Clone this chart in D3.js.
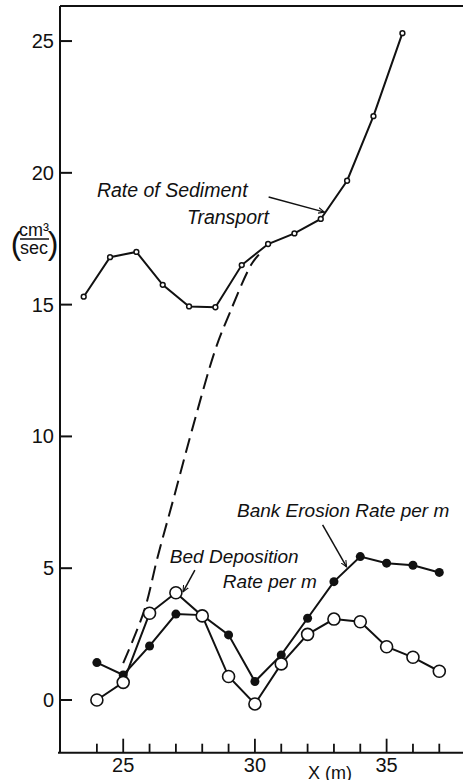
<!DOCTYPE html>
<html>
<head>
<meta charset="utf-8">
<script src="https://cdn.jsdelivr.net/npm/d3@7"></script>
<style>
  body { margin: 0; background: #fff; }
  svg { display: block; }
  text { font-family: "Liberation Sans", Arial, sans-serif; fill: #111; }
  .note { font-style: italic; }
</style>
</head>
<body>
<svg id="chart"></svg>
<script>
// values
var sedX = [23.5, 24.5, 25.5, 26.5, 27.5, 28.5, 29.5, 30.5, 31.5, 32.5, 33.5, 34.5, 35.6];
var sedY = [15.3, 16.8, 17.0, 15.75, 14.93, 14.9, 16.5, 17.3, 17.7, 18.25, 19.7, 22.15, 25.3];

var dashX = [25, 25.8, 26.3, 26.9, 27.6, 28.5, 29.05, 29.85, 30.15];
var dashY = [1.4, 3.4, 5.4, 7.6, 10.2, 13.3, 14.7, 16.5, 16.9];

var posX  = [24, 25, 26, 27, 28, 29, 30, 31, 32, 33, 34, 35, 36, 37];
var bankY = [1.42, 0.95, 2.05, 3.26, 3.22, 2.47, 0.70, 1.71, 3.1, 4.49, 5.44, 5.19, 5.11, 4.84];
var bedY  = [0.0, 0.67, 3.29, 4.07, 3.19, 0.89, -0.15, 1.37, 2.49, 3.07, 2.97, 2.02, 1.62, 1.09];

var yTicks = [0, 5, 10, 15, 20, 25];
var xMajor = [25, 30, 35];
var xMinor = [24, 25, 26, 27, 28, 29, 30, 31, 32, 33, 34, 35, 36, 37];

var width = 463, height = 780;
var padL = 60, padT = 6, padB = 752.7;

var svg = d3.select('#chart').attr('width', width).attr('height', height);

var x = d3.scaleLinear().domain([22.6, 38.0]).range([padL, padL + 15.4 * 26.34]);
var y = d3.scaleLinear().domain([-2, 26.33]).range([padB, padT]);

// arrow head for the leader lines
svg.append('defs').append('marker')
  .attr('id', 'arr')
  .attr('viewBox', '0 -5 10 10')
  .attr('refX', 9).attr('refY', 0)
  .attr('markerWidth', 7).attr('markerHeight', 7)
  .attr('markerUnits', 'userSpaceOnUse')
  .attr('orient', 'auto')
  .append('path')
  .attr('d', 'M0,-4L9,0L0,4')
  .attr('fill', 'none').attr('stroke', '#111').attr('stroke-width', 1.5);

// frame: left, bottom, top
svg.append('line').attr('x1', padL).attr('x2', padL).attr('y1', padT).attr('y2', padB)
  .attr('stroke', '#111').attr('stroke-width', 2);
svg.append('line').attr('x1', padL - 2).attr('x2', width).attr('y1', padB).attr('y2', padB)
  .attr('stroke', '#111').attr('stroke-width', 2);
svg.append('line').attr('x1', padL).attr('x2', width).attr('y1', padT).attr('y2', padT)
  .attr('stroke', '#111').attr('stroke-width', 2);

// y ticks (inward)
svg.selectAll('.ytick').data(yTicks).enter().append('line')
  .attr('x1', padL).attr('x2', padL + 12)
  .attr('y1', function(d) { return y(d); }).attr('y2', function(d) { return y(d); })
  .attr('stroke', '#111').attr('stroke-width', 2);
svg.selectAll('.ylab').data(yTicks).enter().append('text')
  .attr('x', 54).attr('y', function(d) { return y(d) + 7; })
  .attr('text-anchor', 'end').attr('font-size', '20px')
  .text(function(d) { return d; });

// x ticks (inward)
svg.selectAll('.xtick').data(xMinor).enter().append('line')
  .attr('x1', function(d) { return x(d); }).attr('x2', function(d) { return x(d); })
  .attr('y1', padB).attr('y2', function(d) { return xMajor.indexOf(d) >= 0 ? padB - 14 : padB - 9; })
  .attr('stroke', '#111').attr('stroke-width', 1.8);
svg.selectAll('.xlab').data(xMajor).enter().append('text')
  .attr('x', function(d) { return x(d); }).attr('y', 772)
  .attr('text-anchor', 'middle').attr('font-size', '20px')
  .text(function(d) { return d; });
svg.append('text').attr('x', 330).attr('y', 779)
  .attr('text-anchor', 'middle').attr('font-size', '18px').text('X (m)');

// y unit label as a fraction in brackets
var ul = svg.append('g').attr('transform', 'translate(34,0)');
ul.append('text').attr('x', 0).attr('y', 236).attr('text-anchor', 'middle')
  .attr('font-size', '18px').text('cm³');
ul.append('line').attr('x1', -14).attr('x2', 15).attr('y1', 239).attr('y2', 239)
  .attr('stroke', '#111').attr('stroke-width', 1.5);
ul.append('text').attr('x', 0).attr('y', 254).attr('text-anchor', 'middle')
  .attr('font-size', '18px').text('sec');
ul.append('text').attr('x', -18).attr('y', 254).attr('text-anchor', 'middle')
  .attr('font-size', '32px').attr('font-weight', 'lighter').text('(');
ul.append('text').attr('x', 19).attr('y', 254).attr('text-anchor', 'middle')
  .attr('font-size', '32px').attr('font-weight', 'lighter').text(')');

var line = d3.line()
  .x(function(d) { return x(d[0]); })
  .y(function(d) { return y(d[1]); });

var sed = d3.zip(sedX, sedY);
var dash = d3.zip(dashX, dashY);
var bank = d3.zip(posX, bankY);
var bed = d3.zip(posX, bedY);

// dashed connector
svg.append('path').datum(dash)
  .attr('d', line.curve(d3.curveCatmullRom.alpha(0.5)))
  .attr('fill', 'none').attr('stroke', '#111').attr('stroke-width', 2)
  .attr('stroke-dasharray', '15,7');
line.curve(d3.curveLinear);

svg.append('path').datum(sed).attr('d', line)
  .attr('fill', 'none').attr('stroke', '#111').attr('stroke-width', 2);
svg.selectAll('.sed').data(sed).enter().append('circle')
  .attr('cx', function(d) { return x(d[0]); }).attr('cy', function(d) { return y(d[1]); })
  .attr('r', 2.4).attr('fill', '#fff').attr('stroke', '#111').attr('stroke-width', 1.5);

svg.append('path').datum(bank).attr('d', line)
  .attr('fill', 'none').attr('stroke', '#111').attr('stroke-width', 2);
svg.selectAll('.bank').data(bank).enter().append('circle')
  .attr('cx', function(d) { return x(d[0]); }).attr('cy', function(d) { return y(d[1]); })
  .attr('r', 4.5).attr('fill', '#111');

svg.append('path').datum(bed).attr('d', line)
  .attr('fill', 'none').attr('stroke', '#111').attr('stroke-width', 2);
svg.selectAll('.bed').data(bed).enter().append('circle')
  .attr('cx', function(d) { return x(d[0]); }).attr('cy', function(d) { return y(d[1]); })
  .attr('r', 6).attr('fill', '#fff').attr('stroke', '#111').attr('stroke-width', 1.6);

// annotations, placed in data units
function note(txt, dx, dy, size) {
  svg.append('text').attr('class', 'note')
    .attr('x', x(dx)).attr('y', y(dy)).attr('font-size', size + 'px').text(txt);
}
function leader(x1, y1, x2, y2) {
  svg.append('line').attr('x1', x(x1)).attr('y1', y(y1)).attr('x2', x(x2)).attr('y2', y(y2))
    .attr('stroke', '#111').attr('stroke-width', 1.5).attr('marker-end', 'url(#arr)');
}
note('Rate of Sediment', 24.0, 19.08, 19.5);
note('Transport', 27.42, 18.06, 19.5);
leader(30.52, 19.08, 32.64, 18.51);

note('Bank Erosion Rate per  m', 29.32, 6.94, 19);
leader(32.57, 6.64, 33.48, 5.05);

note('Bed Deposition', 26.77, 5.2, 19);
note('Rate per m', 28.78, 4.25, 19);
leader(27.72, 4.93, 27.27, 4.10);
</script>
</body>
</html>
